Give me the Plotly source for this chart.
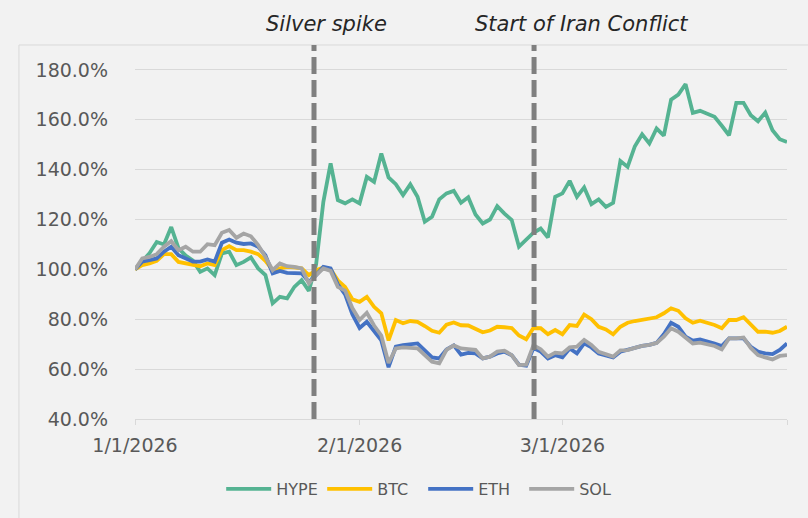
import pandas as pd
import plotly.graph_objects as go

# Daily observation dates (one date, 2026-03-21, absent from the series)
dates = [d for d in pd.date_range("2026-01-01", "2026-04-01", freq="D") if d != pd.Timestamp("2026-03-21")]

hype = [100, 103, 106.5, 111, 110, 117, 108.5, 105.5, 103.5, 99,
        100.4, 97.7, 106.4, 107.1, 101.7, 103, 104.8, 100.4, 97.7, 86.4,
        89, 88.4, 93, 95.7, 91.4, 102, 127.1, 142.5, 127.8, 126.5,
        128.1, 126.5, 137.1, 135.1, 146.5, 136.9, 134.2, 129.8, 134.1, 129.1,
        119.1, 121.1, 128.1, 130.5, 131.5, 126.7, 128.9, 122, 118.4, 120,
        125.4, 122.4, 119.8, 109.1, 111.7, 114.7, 116.4, 112.8, 129.1, 130.5,
        135.5, 129.1, 132.9, 126.2, 128.1, 125.1, 126.7, 143.5, 141.1, 149.4,
        154.2, 150.5, 156.5, 153.7, 168.1, 170.1, 174.3, 162.8, 163.6, 161.2,
        157.6, 153.8, 166.8, 166.8, 161.8, 159.4, 162.9, 155.8, 152.2, 151.1]

btc = [100, 101.7, 102.4, 103.4, 106.1, 106.1, 103, 102.4, 101.7, 101.3,
       102.4, 101.7, 107.7, 109.3, 107.7, 107.7, 107.1, 106.1, 103.4, 99.7,
       100.4, 101, 100.8, 100.4, 97.7, 99.7, 100.8, 100.1, 95.6, 93,
       88, 87, 89, 85, 82.4, 71.5, 79.7, 78.4, 79.3, 79,
       77.3, 75.4, 74.6, 77.8, 78.7, 77.6, 77.5, 76.2, 74.8, 75.5,
       77, 76.8, 76.5, 73.5, 72, 76.5, 76.4, 74, 75.7, 74,
       77.7, 77.3, 81.9, 80, 77, 75.9, 74, 77, 78.6, 79.3,
       79.7, 80.2, 80.8, 82.4, 84.4, 83.4, 80.4, 78.6, 79.4, 77.7,
       76.4, 79.7, 79.7, 80.8, 77.7, 75, 75, 74.6, 75.3, 77]

eth = [100, 103.1, 103.7, 104.4, 107.1, 109.1, 105.7, 104.4, 103.1, 103.1,
       104, 103.1, 110.7, 112, 110.7, 110.2, 110.4, 109.1, 105.7, 98.4,
       99.4, 98.6, 98.6, 98.4, 95, 97.7, 101, 100.4, 94, 90,
       82, 76.5, 79, 75, 71.5, 60.8, 69, 69.6, 69.8, 70.3,
       67.5, 64.7, 64.3, 67.9, 69.5, 65.8, 66.5, 66.3, 64.3, 65,
       66.3, 67, 65.6, 61.8, 61.4, 68.5, 67, 64.3, 65.6, 64.7,
       68.3, 66.3, 70.3, 68.7, 66.3, 65.6, 64.7, 67, 67.9, 68.7,
       69.3, 69.7, 70.5, 74, 78.6, 77, 73, 71.4, 71.9, 70.3,
       69.3, 72.3, 72.3, 72.3, 69, 67, 66.3, 66, 67.7, 70.3]

sol = [100, 104.4, 105, 106.1, 109.1, 111.3, 107.7, 109.1, 107.1, 107.1,
       110.1, 109.7, 114.7, 115.8, 112.7, 114.4, 113.3, 109.7, 105, 99.7,
       102.4, 101.3, 101, 100.4, 94.4, 97.7, 100.4, 99.4, 93, 91.5,
       84.5, 79.7, 82.6, 77.5, 73.5, 62.5, 68.3, 68.7, 68.5, 68.3,
       65.6, 63, 62.3, 67.7, 69.5, 68.3, 68, 67.7, 64.3, 65,
       67, 67.4, 65.6, 61.6, 61.8, 69.6, 68, 65, 66.6, 66.3,
       68.7, 69, 71.7, 69.7, 66.9, 66, 65, 67.5, 67.6, 68.5,
       69.3, 69.7, 70.5, 73, 76.4, 75, 72.7, 70.3, 70.6, 69.3,
       67.9, 72.3, 72.3, 72.7, 68.5, 65.6, 64.7, 63.9, 65.3, 65.6]

series_names = ["HYPE", "BTC", "ETH", "SOL"]
series_colors = ["#55b392", "#ffc000", "#4472c4", "#a5a5a5"]

event_dates = ["2026-01-25 17:00", "2026-02-25 02:00"]
event_labels = ["Silver spike", "Start of Iran Conflict"]
event_label_shift = [-50, -61]

x_tick_vals = ["2026-01-01", "2026-02-01", "2026-03-01", "2026-04-01"]
x_tick_text = ["1/1/2026", "2/1/2026", "3/1/2026", ""]
y_tick_vals = [40, 60, 80, 100, 120, 140, 160, 180]
y_tick_text = ["40.0%", "60.0%", "80.0%", "100.0%", "120.0%", "140.0%", "160.0%", "180.0%"]

FONT = "DejaVu Sans"

fig = go.Figure()
for name, vals, col in zip(series_names, [hype, btc, eth, sol], series_colors):
    fig.add_trace(go.Scatter(x=dates, y=vals, mode="lines", name=name,
                             line=dict(color=col, width=3.8)))

# chart-area border (top and left edges visible)
fig.add_shape(type="line", xref="paper", yref="paper", x0=-0.178, x1=1.05, y0=1.0, y1=1.0,
              line=dict(color="#d9d9d9", width=1), layer="below")
fig.add_shape(type="line", xref="paper", yref="paper", x0=-0.178, x1=-0.178, y0=-0.4, y1=1.0,
              line=dict(color="#d9d9d9", width=1), layer="below")

for d, lab, sh in zip(event_dates, event_labels, event_label_shift):
    fig.add_shape(type="line", xref="x", yref="y", x0=d, x1=d, y0=40, y1=190,
                  line=dict(color="#7f7f7f", width=5, dash="17px,6px"), layer="above")
    fig.add_annotation(x=d, xref="x", y=1, yref="paper", text=lab, showarrow=False,
                       xanchor="left", yanchor="bottom", xshift=sh, yshift=7,
                       font=dict(family=FONT, size=21, color="#262626", style="italic"))

fig.update_layout(
    width=808, height=518,
    margin=dict(l=135, r=21, t=45, b=99),
    paper_bgcolor="#f2f2f2", plot_bgcolor="#f2f2f2",
    font=dict(family=FONT, color="#595959"),
    showlegend=True,
    legend=dict(orientation="h", x=0.442, xanchor="center", y=-0.187, yanchor="middle",
                font=dict(size=16, color="#595959"), itemwidth=45,
                entrywidth=41, entrywidthmode="pixels",
                bgcolor="rgba(0,0,0,0)"),
    xaxis=dict(type="date", range=["2026-01-01", "2026-04-01"],
               tickvals=x_tick_vals, ticktext=x_tick_text,
               showgrid=False, zeroline=False,
               showline=True, linecolor="#d9d9d9", linewidth=1,
               ticks="outside", ticklen=5, tickcolor="#d9d9d9",
               tickfont=dict(size=19, color="#595959"), ticklabelstandoff=4),
    yaxis=dict(range=[40, 190], tickvals=y_tick_vals, ticktext=y_tick_text,
               showgrid=True, gridcolor="#d9d9d9", gridwidth=1, zeroline=False,
               showline=False, ticks="", tickfont=dict(size=19, color="#595959"),
               ticklabelstandoff=26),
)

fig.write_html("out.html", config={"displayModeBar": False},
               post_script="document.body.style.margin='0';")
